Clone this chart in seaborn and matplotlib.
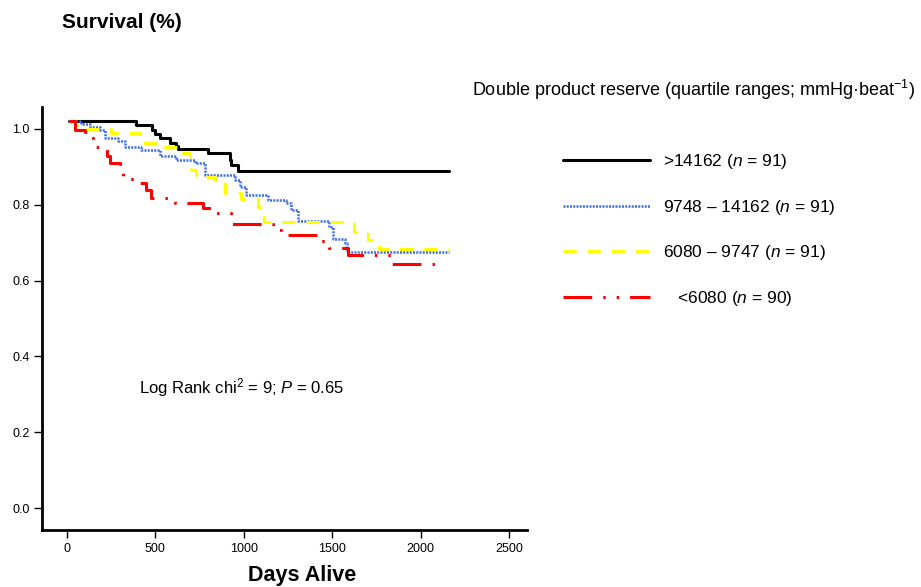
import pandas as pd
import seaborn as sns
import matplotlib.pyplot as plt
from matplotlib.ticker import FormatStrFormatter

# step points (day, cumulative survival)
black_days = [10, 389, 482, 497, 525, 581, 619, 628, 797, 920, 929, 967, 2161]
black_surv = [1.021, 1.010, 0.997, 0.986, 0.975, 0.962, 0.956, 0.946, 0.936, 0.918, 0.905, 0.890, 0.890]

blue_days = [10, 83, 130, 186, 214, 290, 327, 421, 525, 619, 722, 779, 948, 976, 1014,
             1136, 1240, 1268, 1306, 1484, 1503, 1569, 1582, 2161]
blue_surv = [1.021, 1.012, 1.006, 0.997, 0.975, 0.967, 0.953, 0.945, 0.929, 0.918, 0.909,
             0.879, 0.865, 0.848, 0.826, 0.813, 0.804, 0.786, 0.758, 0.742, 0.709, 0.698,
             0.676, 0.676]

yellow_days = [10, 45, 111, 252, 412, 544, 638, 694, 704, 732, 835, 892, 986, 1080, 1089,
               1117, 1625, 1700, 1766, 2161]
yellow_surv = [1.021, 1.011, 0.999, 0.989, 0.962, 0.953, 0.936, 0.918, 0.892, 0.873, 0.861,
               0.830, 0.815, 0.795, 0.782, 0.755, 0.729, 0.707, 0.683, 0.683]

red_days = [10, 45, 102, 125, 149, 230, 243, 299, 318, 384, 450, 478, 609, 769, 816, 929,
            1164, 1212, 1418, 1484, 1590, 1832, 2120]
red_surv = [1.021, 0.998, 0.993, 0.976, 0.953, 0.930, 0.909, 0.892, 0.868, 0.857, 0.840,
            0.817, 0.806, 0.791, 0.778, 0.749, 0.733, 0.720, 0.705, 0.686, 0.668, 0.644, 0.644]

labels = [">14162 ($n$ = 91)", "9748 \u2013 14162 ($n$ = 91)",
          "6080 \u2013 9747 ($n$ = 91)", "   <6080 ($n$ = 90)"]

sns.set_style("ticks")
plt.rcParams["font.family"] = ["Liberation Sans", "DejaVu Sans"]
plt.rcParams["mathtext.fontset"] = "custom"
plt.rcParams["mathtext.rm"] = "Liberation Sans"
plt.rcParams["mathtext.it"] = "Liberation Sans:italic"
for key in ["text.color", "axes.labelcolor", "xtick.color", "ytick.color", "axes.edgecolor"]:
    plt.rcParams[key] = "black"

fig = plt.figure(figsize=(9.21, 5.87), dpi=100)
ax = fig.add_axes([42 / 921, 1 - 530 / 587, 485 / 921, 423 / 587])

series = [
    (black_days, black_surv, "black", "-", 2.2),
    (blue_days, blue_surv, "#3b6cea", (0, (0.8, 0.5)), 1.8),
    (yellow_days, yellow_surv, "#ffff00", (0, (4.3, 3.6)), 2.2),
    (red_days, red_surv, "#ff0000", (0, (9.4, 3.6, 0.8, 3.6, 0.8, 3.6)), 2.2),
]
for (d, s, c, ls, lw), lab in zip(series, labels):
    df = pd.DataFrame({"day": d, "surv": s})
    sns.lineplot(data=df, x="day", y="surv", ax=ax, color=c, linestyle=ls, lw=lw,
                 drawstyle="steps-post", estimator=None, label=lab)

ax.set_xlim(-140, 2600)
ax.set_ylim(-0.058, 1.058)
ax.set_xticks([0, 500, 1000, 1500, 2000, 2500])
ax.set_yticks([0.0, 0.2, 0.4, 0.6, 0.8, 1.0])
ax.yaxis.set_major_formatter(FormatStrFormatter("%.1f"))
ax.tick_params(axis="both", direction="out", length=6, width=1, labelsize=9, pad=3)
for side in ["top", "right"]:
    ax.spines[side].set_visible(False)
for side in ["left", "bottom"]:
    ax.spines[side].set_linewidth(2)
ax.set_xlabel("")
ax.set_ylabel("")

leg = ax.legend(loc="upper left", bbox_to_anchor=(563 / 921, 1 - 152 / 587),
                bbox_transform=fig.transFigure, frameon=False, fontsize=12.5,
                handlelength=5.0, handletextpad=0.75, labelspacing=1.54,
                borderpad=0, borderaxespad=0)

ax.text(406, 0.317, "Log Rank chi$^2$ = 9; $P$ = 0.65", fontsize=12, va="center")

fig.text(62 / 921, 1 - 22 / 587, "Survival (%)", fontsize=15, fontweight="bold",
         va="center", ha="left")
fig.text(302 / 921, 1 - 575 / 587, "Days Alive", fontsize=15.5, fontweight="bold",
         va="center", ha="center")
fig.text(915 / 921, 1 - 90 / 587,
         "Double product reserve (quartile ranges; mmHg\u00b7beat$^{-1}$)",
         fontsize=13, va="center", ha="right")

plt.savefig("out.png", dpi=100)
